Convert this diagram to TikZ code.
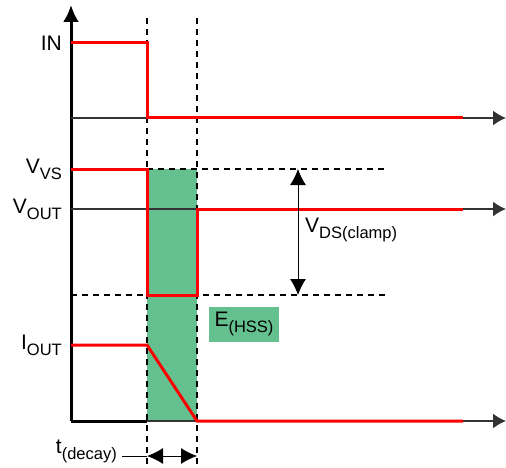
\documentclass[tikz,border=0pt]{standalone}
\usepackage{fontspec}
\setmainfont{Liberation Sans}
\usetikzlibrary{arrows.meta,positioning}
\definecolor{hssgreen}{RGB}{100,193,143}
\newcommand{\lowtxt}[1]{\raisebox{-0.55ex}{\fontsize{16.5}{16.5}\selectfont #1}}

\begin{document}
\begin{tikzpicture}[x=1pt,y=-1pt,
  sig/.style={red,line width=3pt},
  axisline/.style={black!80,line width=1.5pt},
  guide/.style={dash pattern=on 6pt off 5pt,line width=1.2pt},
  lbl/.style={font=\fontsize{21}{21}\selectfont,inner sep=0pt,anchor=east},
  tip/.style={-{Latex[length=13pt,width=15pt]}},
  dimarrow/.style={line width=1pt,{Latex[length=16pt,width=16pt]}-{Latex[length=16pt,width=16pt]}}]
\useasboundingbox (0,0) rectangle (506,468);

% energy area
\fill[hssgreen] (147,169) rectangle (197,421);

% time marks
\coordinate (t0) at (147,18);
\coordinate (t1) at (197,18);
\coordinate (t0b) at (147,468);
\coordinate (t1b) at (197,468);
\draw[guide] (t0) -- (t0b);
\draw[guide] (t1) -- (t1b);

% level marks
\coordinate (vsL) at (147,169);
\coordinate (vsR) at (387,169);
\coordinate (clL) at (71,295);
\coordinate (clR) at (387,295);
\draw[guide] (vsL) -- (vsR);
\draw[guide] (clL) -- (clR);

% axes
\coordinate (org) at (71,421);
\coordinate (top) at (71,5);
\draw[line width=3pt,-{Latex[length=17pt,width=16pt]}] (org) -- (top);
\coordinate (inA) at (71,118);
\coordinate (inE) at (506,118);
\coordinate (voA) at (71,209);
\coordinate (voE) at (506,209);
\coordinate (ioE) at (506,421);
\draw[axisline,tip] (inA) -- (inE);
\draw[axisline,tip] (voA) -- (voE);
\draw[line width=3pt] (org) -- (147,421);
\draw[axisline,tip] (147,421) -- (ioE);

% signals
\draw[sig] (71,43) -- (147,43) -- (147,118) -- (463,118);
\draw[sig] (71,169) -- (147,169) -- (147,295) -- (197,295) -- (197,209) -- (463,209);
\draw[sig] (71,345) -- (147,345) -- (197,421) -- (463,421);

% labels
\node[lbl] (in) at (62,43) {IN};
\node[lbl] (vvs) at (62,169) {V\lowtxt{VS}};
\node[lbl] (vout) at (62,209) {V\lowtxt{OUT}};
\node[lbl] (iout) at (62,345) {I\lowtxt{OUT}};

% clamp voltage
\coordinate (vtop) at (298,169);
\coordinate (vbot) at (298,295);
\draw[dimarrow] (vtop) -- (vbot);
\node[lbl,anchor=west] (vds) at (305,230) {V\lowtxt{DS(clamp)}};

% energy box
\node[fill=hssgreen,minimum width=70,minimum height=35,inner sep=0pt,
  font=\fontsize{21}{21}\selectfont] (ehss) at (244,324) {E\lowtxt{(HSS)}};

% decay time
\node[lbl,inner xsep=5pt] (tdec) at (122,451) {t\lowtxt{(decay)}};
\coordinate (d0) at (147,456);
\coordinate (d1) at (197,456);
\draw[line width=1pt] (tdec.east |- d0) -- (d0);
\draw[dimarrow] (d0) -- (d1);

\end{tikzpicture}
\end{document}
